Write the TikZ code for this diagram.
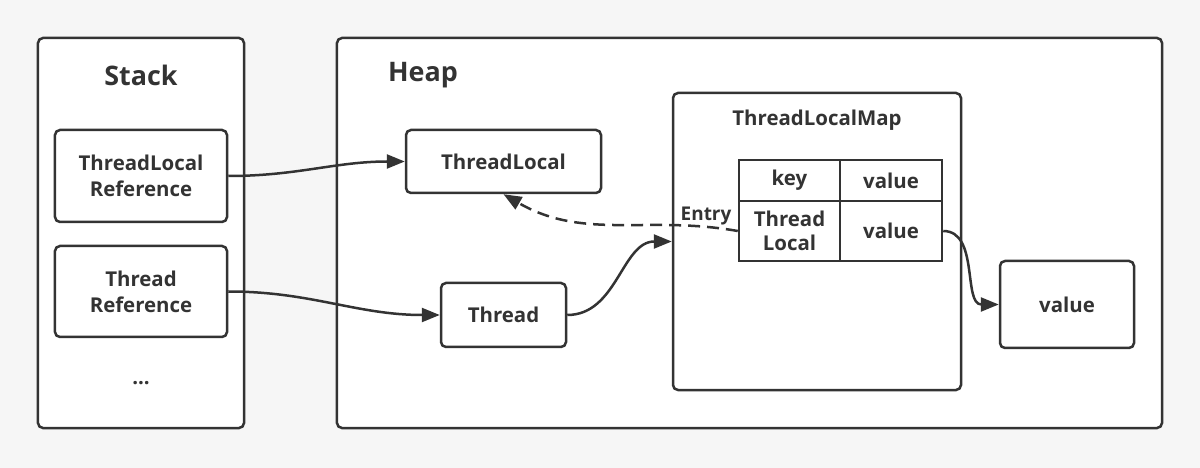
\documentclass[tikz,border=0pt]{standalone}
\usepackage{fontspec}
\setmainfont{Open Sans}
\usetikzlibrary{arrows.meta}
\definecolor{ink}{RGB}{51,51,51}
\definecolor{paper}{RGB}{246,246,246}

\begin{document}
\begin{tikzpicture}[x=1bp,y=-1bp,
  box/.style={draw=ink,line width=2.5bp,rounded corners=5bp,fill=white,text=ink,align=center,inner sep=0pt,font=\bfseries\fontsize{20.5}{26}\selectfont},
  cell/.style={draw=ink,line width=2.5bp,fill=white,text=ink,align=center,inner sep=0pt,font=\bfseries\fontsize{20.5}{24}\selectfont},
  title/.style={text=ink,font=\bfseries\fontsize{27}{30}\selectfont},
  link/.style={draw=ink,line width=2.5bp,-{Triangle[length=18bp,width=14bp]}}]

\fill[paper] (0,0) rectangle (1200,468);

\node (stack) at (141,233)[box,minimum width=206bp,minimum height=390bp] {};
\node (stacktitle) at (141,75)[title] {Stack};
\node (heap) at (749.5,233)[box,minimum width=825bp,minimum height=390bp] {};
\node (heaptitle) at (423,75)[title] {Heap};

\node (tlref) at (141,176)[box,minimum width=172bp,minimum height=92bp] {ThreadLocal\\Reference};
\node (tref) at (141,291.5)[box,minimum width=172bp,minimum height=91bp] {Thread\\Reference};
\node (dots) at (141,383)[text=ink,font=\bfseries\fontsize{20.5}{24}\selectfont] {...};

\node (tl) at (503.5,161.5)[box,minimum width=195bp,minimum height=63bp] {ThreadLocal};
\node (thread) at (503.5,315)[box,minimum width=125bp,minimum height=64bp] {Thread};

\node (map) at (817,241.5)[box,minimum width=288bp,minimum height=297bp] {};
\node (maptitle) at (817,120)[text=ink,font=\bfseries\fontsize{20.5}{24}\selectfont] {ThreadLocalMap};
\node (key) at (789.5,180.5)[cell,minimum width=101bp,minimum height=41bp] {key};
\node (keyval) at (891,180.5)[cell,minimum width=102bp,minimum height=41bp] {value};
\node (entrykey) at (789.5,231)[cell,minimum width=101bp,minimum height=60bp] {Thread\\Local};
\node (entryval) at (891,231)[cell,minimum width=102bp,minimum height=60bp] {value};

\node (val) at (1067,304.5)[box,minimum width=134bp,minimum height=87bp] {value};

\draw[link] (tlref.east) to[out=0,in=180] (tl.west);
\draw[link] (tref.east) to[out=0,in=180] (thread.west);
\draw[link] (thread.east) to[out=0,in=180] (map.west);
\draw[link] (entryval.east) to[out=0,in=180] (val.west);
\draw[link,dash pattern=on 12bp off 7bp] (entrykey.west) to[out=170,in=-30] node[pos=0.12,above=-3bp,text=ink,font=\bfseries\fontsize{19}{23}\selectfont] {Entry} (tl.south);
\end{tikzpicture}
\end{document}
